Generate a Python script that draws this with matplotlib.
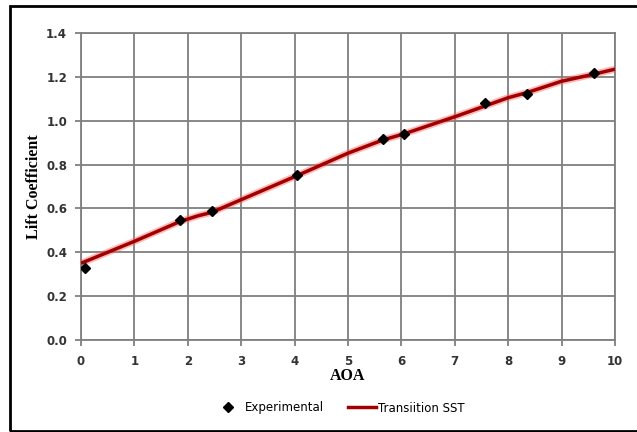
import matplotlib
matplotlib.use("Agg")
import matplotlib.pyplot as plt
from matplotlib.patches import Rectangle
from matplotlib.lines import Line2D

# Experimental data
exp_aoa = [0.07, 1.85, 2.45, 4.05, 5.65, 6.05, 7.57, 8.35, 9.6]
exp_cl = [0.33, 0.548, 0.59, 0.752, 0.917, 0.94, 1.082, 1.123, 1.218]

# Transition SST simulation
sst_aoa = [0.0, 1.0, 1.85, 2.2, 2.45, 3.0, 4.05, 5.0, 5.65, 6.05, 7.0, 7.6, 8.0, 8.35, 9.0, 9.6, 10.0]
sst_cl = [0.35, 0.45, 0.54, 0.567, 0.582, 0.64, 0.75, 0.852, 0.912, 0.94, 1.018, 1.07, 1.105, 1.128, 1.18, 1.212, 1.235]

xticks = list(range(0, 11))
yticks = [0.0, 0.2, 0.4, 0.6, 0.8, 1.0, 1.2, 1.4]
ytick_labels = ["0.0", "0.2", "0.4", "0.6", "0.8", "1.0", "1.2", "1.4"]

fig = plt.figure(figsize=(6.37, 4.32), dpi=100)
ax = fig.add_axes([81/637, 1-340/432, (615-81)/637, (340-33)/432])

grid_c = "#7f7f7f"
ax.set_xlim(0, 10)
ax.set_ylim(0, 1.4)
ax.set_xticks(xticks)
ax.set_yticks(yticks)
ax.set_yticklabels(ytick_labels)
ax.grid(True, color=grid_c, linewidth=1.3)
ax.set_axisbelow(True)
for s in ax.spines.values():
    s.set_color(grid_c)
    s.set_linewidth(1.3)
ax.tick_params(axis="both", colors=grid_c, length=4, width=1.3, labelcolor="#333333",
               labelsize=8.5)
ax.tick_params(axis="x", pad=7)
ax.tick_params(axis="y", pad=6)
for lbl in ax.get_xticklabels() + ax.get_yticklabels():
    lbl.set_fontweight("semibold")

# red line with soft halo
ax.plot(sst_aoa, sst_cl, color="#ff6060", linewidth=5, alpha=0.45, zorder=3, solid_capstyle="butt")
ax.plot(sst_aoa, sst_cl, color="#a00000", linewidth=2.5, zorder=4, solid_capstyle="butt")
ax.plot(exp_aoa, exp_cl, linestyle="none", marker="D", markersize=5.5, color="black", zorder=5)

ax.set_xlabel("AOA", fontfamily="Liberation Serif", fontweight="bold", fontsize=11.5, labelpad=0)
ax.set_ylabel("Lift Coefficient", fontfamily="Liberation Serif", fontweight="bold", fontsize=11.5, labelpad=3)

handles = [Line2D([], [], linestyle="none", marker="D", markersize=5, color="black"),
           Line2D([], [], color="#a00000", linewidth=2.5)]
fig.legend(handles, ["Experimental", "Transiition SST"], loc="center", bbox_to_anchor=(0.533, 1-408/432),
           ncol=2, frameon=False, handlelength=2.4, columnspacing=2.0,
           handletextpad=0.2, fontsize=8.5)

# outer border (right edge lies outside the canvas)
fig.patches.append(Rectangle((10/637, 1-431/432), 1.1, 425/432, transform=fig.transFigure,
                             fill=False, edgecolor="black", linewidth=2, zorder=10))

fig.savefig("out.png", dpi=100)
